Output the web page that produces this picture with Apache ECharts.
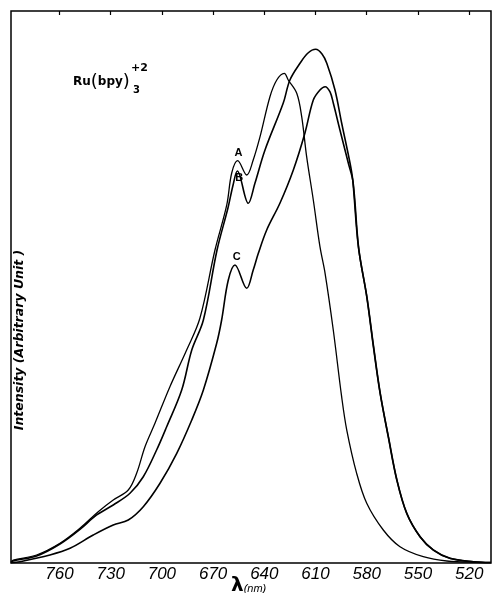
<!DOCTYPE html>
<html>
<head>
<meta charset="utf-8">
<title>Ru(bpy)3 emission spectra</title>
<script src="https://cdn.jsdelivr.net/npm/echarts@6/dist/echarts.min.js"></script>
<style>
  html, body { margin: 0; padding: 0; background: #ffffff; }
  #chart { width: 494px; height: 593px; }
</style>
</head>
<body>
<div id="chart"></div>
<script>
// Emission spectra of Ru(bpy)3^2+ : wavelength (nm) vs. intensity (arbitrary units)
const wavelengthTicks = [760, 730, 700, 670, 640, 610, 580, 550, 520];

const wavelengthA = [788.4, 787.1, 773.4, 759.7, 748.0, 737.3, 728.5, 719.7, 714.8, 709.9, 704.0, 695.3, 685.5, 677.7, 668.9, 662.0, 659.1, 655.6, 650.3, 646.5, 642.5, 636.7, 632.7, 628.3, 626.0, 621.0, 618.1, 615.2, 611.3, 607.4, 604.4, 599.6, 594.7, 591.7, 585.9, 580.0, 570.3, 560.5, 546.9, 533.1, 513.6, 507.2];
const intensityA  = [0.2, 0.54, 1.45, 3.57, 6.29, 9.29, 11.41, 13.22, 16.25, 21.07, 25.36, 31.94, 38.59, 44.38, 56.7, 64.86, 70.65, 72.88, 70.29, 73.01, 77.23, 84.47, 87.5, 88.71, 87.5, 85.09, 80.85, 73.61, 65.76, 57.3, 52.48, 42.21, 30.13, 24.09, 16.25, 10.82, 5.98, 2.95, 1.14, 0.36, 0.09, 0.05];

const wavelengthB = [788.4, 787.2, 773.4, 759.7, 748.0, 738.2, 728.5, 718.7, 710.9, 703.1, 697.2, 688.4, 682.5, 675.7, 667.7, 661.3, 658.3, 655.8, 649.4, 645.5, 639.6, 628.9, 625.0, 619.1, 614.4, 609.9, 606.2, 603.4, 598.6, 594.7, 589.8, 588.2, 584.9, 580.0, 576.1, 572.2, 567.4, 562.4, 556.6, 548.8, 541.0, 531.2, 517.6, 507.2];
const intensityB  = [0.05, 0.36, 1.27, 3.44, 6.1, 8.7, 10.51, 12.63, 15.63, 20.47, 24.69, 31.34, 38.59, 44.02, 56.7, 64.31, 68.48, 71.01, 65.16, 68.79, 74.82, 83.33, 87.5, 90.53, 92.39, 93.06, 92.21, 90.53, 85.69, 79.71, 72.46, 69.38, 57.3, 48.24, 39.18, 30.8, 22.88, 15.04, 9.0, 4.76, 2.36, 0.85, 0.24, 0.09];

const wavelengthC = [788.4, 783.1, 765.6, 753.8, 740.2, 728.5, 719.7, 710.9, 701.1, 691.3, 682.5, 675.7, 667.9, 665.0, 661.1, 657.2, 650.3, 646.5, 643.5, 638.6, 630.8, 623.0, 616.2, 611.3, 607.4, 604.4, 601.5, 599.6, 595.7, 590.8, 588.0, 584.7, 579.8, 575.9, 572.0, 567.2, 562.2, 556.4, 548.6, 540.8, 531.0, 517.4, 507.2];
const intensityC  = [0.04, 0.24, 1.45, 2.66, 5.07, 6.88, 7.79, 10.2, 14.44, 19.87, 25.91, 31.34, 39.8, 44.02, 51.27, 53.99, 49.76, 53.08, 56.1, 60.33, 65.22, 71.2, 77.9, 83.88, 85.69, 86.29, 85.33, 83.33, 78.44, 72.46, 69.0, 57.0, 48.0, 39.0, 30.6, 22.7, 14.9, 8.9, 4.7, 2.3, 0.8, 0.22, 0.08];

const curveNames = ['A', 'B', 'C'];
const labelPoints = [[655.2, 74.2], [654.7, 69.7], [656.2, 55.5]];

function pairs(xs, ys) { return xs.map((x, i) => [x, ys[i]]); }

const chart = echarts.init(document.getElementById('chart'), null, { renderer: 'canvas' });

const xMin = 507.2, xMax = 788.4;
const labelFont = 'Liberation Sans';

function curve(name, xs, ys, width, idx) {
  return {
    name: name,
    type: 'line',
    data: pairs(xs, ys),
    showSymbol: false,
    smooth: 0.35,
    lineStyle: { color: '#000', width: width },
    silent: true,
    z: 3,
    markPoint: {
      symbol: 'circle',
      symbolSize: 0,
      silent: true,
      data: [{ coord: labelPoints[idx] }],
      label: {
        show: true,
        position: 'inside',
        formatter: name,
        color: '#000',
        fontFamily: labelFont,
        fontWeight: 'bold',
        fontSize: 11
      }
    }
  };
}

chart.setOption({
  animation: false,
  backgroundColor: '#ffffff',
  grid: {
    left: 11, right: 3, top: 11, bottom: 30,
    show: true,
    borderColor: '#000',
    borderWidth: 1.5,
    backgroundColor: 'transparent'
  },
  xAxis: [{
    type: 'value',
    inverse: true,
    min: xMin,
    max: xMax,
    position: 'bottom',
    axisLine: { show: false },
    splitLine: { show: false },
    axisTick: { show: false },
    axisLabel: {
      show: true,
      customValues: wavelengthTicks,
      margin: 3,
      color: '#000',
      fontFamily: labelFont,
      fontStyle: 'italic',
      fontSize: 17
    }
  }, {
    type: 'value',
    inverse: true,
    min: xMin,
    max: xMax,
    position: 'top',
    axisLine: { show: false },
    splitLine: { show: false },
    axisLabel: { show: false },
    axisTick: {
      show: true,
      inside: true,
      length: 4,
      customValues: wavelengthTicks,
      lineStyle: { color: '#000', width: 1.2 }
    }
  }],
  yAxis: {
    type: 'value',
    min: 0,
    max: 100,
    axisLine: { show: false },
    axisTick: { show: false },
    axisLabel: { show: false },
    splitLine: { show: false }
  },
  series: [
    curve(curveNames[0], wavelengthA, intensityA, 1.3, 0),
    curve(curveNames[1], wavelengthB, intensityB, 1.6, 1),
    curve(curveNames[2], wavelengthC, intensityC, 1.6, 2)
  ],
  graphic: [
    {
      type: 'text',
      x: 73, y: 82,
      style: {
        text: '{m|Ru}{p|(}{m|bpy}{p|)}',
        verticalAlign: 'middle',
        rich: {
          m: { fontFamily: 'DejaVu Sans', fontWeight: 'bold', fontSize: 12, fill: '#000' },
          p: { fontFamily: 'DejaVu Sans', fontWeight: 'normal', fontSize: 18, fill: '#000' }
        }
      }
    },
    {
      type: 'text', x: 133, y: 90,
      style: { text: '3', fontFamily: 'DejaVu Sans', fontWeight: 'bold', fontSize: 10, fill: '#000', verticalAlign: 'middle' }
    },
    {
      type: 'text', x: 131, y: 68,
      style: { text: '+2', fontFamily: 'DejaVu Sans', fontWeight: 'bold', fontSize: 11, fill: '#000', verticalAlign: 'middle' }
    },
    {
      type: 'text',
      x: 20, y: 340,
      rotation: Math.PI / 2,
      style: {
        text: 'Intensity (Arbitrary Unit )',
        align: 'center',
        verticalAlign: 'middle',
        fontFamily: 'DejaVu Sans',
        fontStyle: 'italic',
        fontWeight: 'bold',
        fontSize: 12.5,
        fill: '#000'
      }
    },
    {
      type: 'text',
      x: 231, y: 586,
      style: {
        text: '{l|λ}{u|(nm)}',
        verticalAlign: 'middle',
        rich: {
          l: { fontFamily: 'DejaVu Sans', fontWeight: 'bold', fontSize: 20, fill: '#000' },
          u: { fontFamily: labelFont, fontStyle: 'italic', fontSize: 11, fill: '#000', padding: [6, 0, 0, 0] }
        }
      }
    }
  ]
});
</script>
</body>
</html>
